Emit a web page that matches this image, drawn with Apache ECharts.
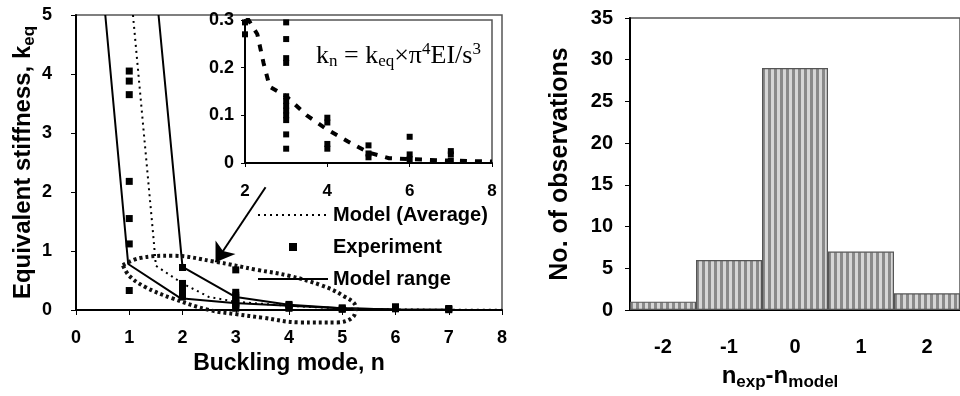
<!DOCTYPE html>
<html>
<head>
<meta charset="utf-8">
<script src="https://cdn.jsdelivr.net/npm/echarts@6/dist/echarts.min.js"></script>
<style>
  html, body { margin: 0; padding: 0; background: #fff; }
  #chart { width: 960px; height: 396px; }
</style>
</head>
<body>
<div id="chart"></div>
<script>
// main plot: k_eq against buckling mode
const expMain = [
  [1, 4.05], [1, 3.88], [1, 3.65], [1, 2.18], [1, 1.55], [1, 1.12], [1, 0.33],
  [2, 0.72], [2, 0.45], [2, 0.4], [2, 0.35], [2, 0.3], [2, 0.25], [2, 0.22],
  [3, 0.68], [3, 0.3], [3, 0.25], [3, 0.21], [3, 0.14], [3, 0.12], [3, 0.1], [3, 0.06], [3, 0.03],
  [4, 0.095], [4, 0.08], [4, 0.04], [4, 0.03],
  [5, 0.037], [5, 0.02], [5, 0.012],
  [6, 0.055], [6, 0.02],
  [7, 0.025], [7, 0.015], [7, 0.005]
]
const modelAvg = [[1.07, 5], [1.45, 1.27], [1.5, 0.75], [2, 0.45], [2.5, 0.22], [3, 0.14], [4, 0.07], [5, 0.025], [6, 0.008], [7, 0.005], [8, 0.003]]
const modelLow = [[0.55, 5], [0.98, 0.78], [1.96, 0.2], [2.96, 0.12], [4, 0.07], [5, 0.03], [6, 0.01], [7, 0.005], [8, 0.002]]
const modelHigh = [[1.55, 5], [2, 0.73], [3, 0.22], [4, 0.09], [5, 0.03], [6, 0.01], [7, 0.005], [8, 0.002]]
// dotted ellipse drawn round the low-stiffness region
const ellipsePts = [
  [0.88, 0.76], [1.2, 0.88], [1.8, 0.92], [2.6, 0.82], [3.4, 0.68], [4.0, 0.58], [4.6, 0.42],
  [5.0, 0.25], [5.25, 0.05], [5.2, -0.12], [4.9, -0.21], [4.2, -0.21], [3.5, -0.13], [3.0, -0.07],
  [2.5, 0.0], [1.8, 0.2], [1.3, 0.39], [1.0, 0.58], [0.88, 0.76]
]
const arrowFrom = [3.56, 2.08]
const arrowTo = [2.62, 0.81]

// inset: zoom on 0..0.3
const expInset = [
  [2, 0.295], [2, 0.27],
  [3, 0.295], [3, 0.26], [3, 0.22], [3, 0.21], [3, 0.14], [3, 0.13], [3, 0.12], [3, 0.11], [3, 0.1], [3, 0.09], [3, 0.06], [3, 0.03],
  [4, 0.095], [4, 0.085], [4, 0.04], [4, 0.03],
  [5, 0.037], [5, 0.02], [5, 0.012],
  [6, 0.055], [6, 0.018], [6, 0.008],
  [7, 0.025], [7, 0.018], [7, 0.005]
]
const avgInset = [[2.05, 0.305], [2.3, 0.27], [2.45, 0.21], [2.6, 0.16], [3, 0.14], [3.5, 0.1], [4, 0.07], [4.5, 0.045], [5, 0.022], [5.5, 0.01], [6, 0.008], [7, 0.005], [8, 0.003]]

// histogram
const histCats = ['-2', '-1', '0', '1', '2']
const histCounts = [1, 6, 29, 7, 2]

const FONT = '"Liberation Sans", Arial, sans-serif'
const SERIF = '"Liberation Serif", "Times New Roman", serif'

// vertical stripe fill for the bars
const stripe = document.createElement('canvas')
stripe.width = 6
stripe.height = 6
const sctx = stripe.getContext('2d')
sctx.fillStyle = '#d6d6d6'
sctx.fillRect(0, 0, 6, 6)
sctx.fillStyle = '#8a8a8a'
sctx.fillRect(0, 0, 3, 6)

const tickLabel = size => ({ color: '#000', fontFamily: FONT, fontWeight: 'bold', fontSize: size })
const blackLine = { lineStyle: { color: '#000', width: 2 } }

const chart = echarts.init(document.getElementById('chart'))
chart.setOption({
  animation: false,
  textStyle: { fontFamily: FONT },
  title: {
    text: '{m|k}{sub|n}{m| = k}{sub|eq}{m|×π}{sup|4}{m|EI/s}{sup|3}',
    left: 311,
    top: 36,
    textStyle: {
      fontWeight: 'normal',
      rich: {
        m: { fontFamily: SERIF, fontWeight: 'normal', fontSize: 26, color: '#000' },
        sub: { fontFamily: SERIF, fontWeight: 'normal', fontSize: 17, color: '#000', padding: [12, 0, 0, 0] },
        sup: { fontFamily: SERIF, fontWeight: 'normal', fontSize: 17, color: '#000', padding: [0, 0, 13, 0] }
      }
    }
  },
  legend: {
    orient: 'vertical',
    left: 252,
    top: 200,
    itemWidth: 70,
    itemHeight: 10,
    itemGap: 12,
    textStyle: { color: '#000', fontFamily: FONT, fontWeight: 'bold', fontSize: 20 },
    data: [
      { name: 'Model (Average)', itemStyle: { opacity: 0 } },
      { name: 'Experiment', lineStyle: { opacity: 0 } },
      { name: 'Model range', itemStyle: { opacity: 0 } }
    ]
  },
  grid: [
    { left: 76, top: 15, width: 426, height: 295, show: true, borderColor: '#555', borderWidth: 1.5 },
    { left: 245, top: 20, width: 247, height: 143, show: true, borderColor: '#555', borderWidth: 1.5, backgroundColor: '#fff' },
    { left: 630, top: 18, width: 332, height: 294, show: true, borderColor: '#555', borderWidth: 1.5 }
  ],
  xAxis: [
    {
      type: 'value', gridIndex: 0, min: 0, max: 8, interval: 1,
      axisLine: blackLine, axisTick: { length: 5, lineStyle: { color: '#000' } },
      axisLabel: Object.assign({ margin: 19 }, tickLabel(18)),
      splitLine: { show: false },
      name: 'Buckling mode, n', nameLocation: 'middle', nameGap: 42,
      nameTextStyle: { color: '#000', fontFamily: FONT, fontWeight: 'bold', fontSize: 23 }
    },
    {
      type: 'value', gridIndex: 1, min: 2, max: 8, interval: 2,
      axisLine: blackLine, axisTick: { length: 4, lineStyle: { color: '#000' } },
      axisLabel: Object.assign({ margin: 20 }, tickLabel(17)),
      splitLine: { show: false }
    },
    {
      type: 'category', gridIndex: 2, data: histCats,
      axisLine: blackLine, axisTick: { length: 5, lineStyle: { color: '#000' } },
      axisLabel: Object.assign({ margin: 27 }, tickLabel(20)),
      name: '{a|n}{b|exp}{a|-n}{b|model}', nameLocation: 'middle', nameGap: 52,
      nameTextStyle: {
        padding: [0, 30, 0, 0],
        rich: {
          a: { color: '#000', fontFamily: FONT, fontWeight: 'bold', fontSize: 24 },
          b: { color: '#000', fontFamily: FONT, fontWeight: 'bold', fontSize: 17, padding: [12, 0, 0, 0] }
        }
      }
    }
  ],
  yAxis: [
    {
      type: 'value', gridIndex: 0, min: 0, max: 5, interval: 1,
      axisLine: { show: true, lineStyle: { color: '#000', width: 2 } },
      axisTick: { show: true, length: 5, lineStyle: { color: '#000' } },
      axisLabel: Object.assign({ margin: 24 }, tickLabel(18)),
      splitLine: { show: false },
      name: '{a|Equivalent stiffness, k}{b|eq}', nameLocation: 'middle', nameGap: 36,
      nameTextStyle: {
        rich: {
          a: { color: '#000', fontFamily: FONT, fontWeight: 'bold', fontSize: 24 },
          b: { color: '#000', fontFamily: FONT, fontWeight: 'bold', fontSize: 17, padding: [12, 0, 0, 0] }
        }
      }
    },
    {
      type: 'value', gridIndex: 1, min: 0, max: 0.3, interval: 0.1,
      axisLine: { show: true, lineStyle: { color: '#000', width: 2 } },
      axisTick: { show: true, length: 4, lineStyle: { color: '#000' } },
      axisLabel: Object.assign({ margin: 11, formatter: v => v === 0 ? '0' : v.toFixed(1) }, tickLabel(18)),
      splitLine: { show: false }
    },
    {
      type: 'value', gridIndex: 2, min: 0, max: 35, interval: 5,
      axisLine: { show: true, lineStyle: { color: '#000', width: 2 } },
      axisTick: { show: true, length: 5, lineStyle: { color: '#000' } },
      axisLabel: Object.assign({ margin: 17 }, tickLabel(20)),
      splitLine: { show: false },
      name: 'No. of observations', nameLocation: 'middle', nameGap: 57,
      nameTextStyle: { color: '#000', fontFamily: FONT, fontWeight: 'bold', fontSize: 25 }
    }
  ],
  series: [
    {
      name: 'Model (Average)', type: 'line', xAxisIndex: 0, yAxisIndex: 0,
      data: modelAvg, symbol: 'none', clip: false,
      lineStyle: { color: '#000', width: 2, type: [2, 4] }, itemStyle: { color: '#000' }
    },
    {
      name: 'Experiment', type: 'line', xAxisIndex: 0, yAxisIndex: 0,
      data: expMain, symbol: 'rect', symbolSize: 7, showAllSymbol: true, z: 4,
      lineStyle: { opacity: 0 }, itemStyle: { color: '#000', opacity: 1 }
    },
    {
      name: 'Model range', type: 'line', xAxisIndex: 0, yAxisIndex: 0,
      data: modelLow, symbol: 'none',
      lineStyle: { color: '#000', width: 2 }, itemStyle: { color: '#000' }
    },
    {
      name: 'Model range', type: 'line', xAxisIndex: 0, yAxisIndex: 0,
      data: modelHigh, symbol: 'none',
      lineStyle: { color: '#000', width: 2 }, itemStyle: { color: '#000' }
    },
    {
      name: 'ellipse', type: 'line', xAxisIndex: 0, yAxisIndex: 0,
      data: ellipsePts, symbol: 'none', smooth: 0.4, clip: false,
      lineStyle: { color: '#111', width: 4, type: [3, 3] },
      markLine: {
        silent: true, symbol: ['none', 'arrow'], symbolSize: 18,
        label: { show: false },
        lineStyle: { color: '#000', width: 2, type: 'solid' },
        data: [[{ coord: arrowFrom }, { coord: arrowTo }]]
      }
    },
    {
      name: 'inset experiment', type: 'scatter', xAxisIndex: 1, yAxisIndex: 1,
      data: expInset, symbol: 'rect', symbolSize: 6, itemStyle: { color: '#000', opacity: 1 }, z: 5
    },
    {
      name: 'inset average', type: 'line', xAxisIndex: 1, yAxisIndex: 1,
      data: avgInset, symbol: 'none', z: 5,
      lineStyle: { color: '#000', width: 4, type: [7, 8] }
    },
    {
      name: 'histogram', type: 'bar', xAxisIndex: 2, yAxisIndex: 2,
      data: histCounts, barCategoryGap: '0%',
      itemStyle: {
        color: { image: stripe, repeat: 'repeat' },
        borderColor: '#555', borderWidth: 1.2
      }
    }
  ]
})
</script>
</body>
</html>
